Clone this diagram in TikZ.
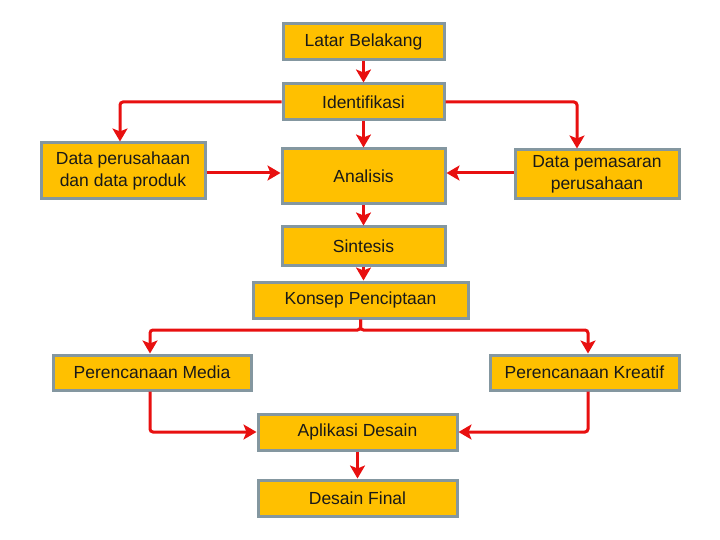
\documentclass[tikz,border=0pt]{standalone}
\usepackage{fontspec}
\setmainfont{Liberation Sans}
\usetikzlibrary{arrows.meta,calc}
\definecolor{boxfill}{RGB}{255,192,0}
\definecolor{boxline}{RGB}{132,151,160}
\definecolor{arrred}{RGB}{232,16,16}
\begin{document}
\begin{tikzpicture}[x=1pt,y=-1pt,
  box/.style={draw=boxline,line width=3pt,fill=boxfill,inner sep=0pt,align=center,
    text=black!90,font=\fontsize{17.5}{22.5}\selectfont},
  arr/.style={draw=arrred,line width=3pt,rounded corners=3pt,
    -{Stealth[width=15pt,length=13pt,inset=3pt]}}]
\useasboundingbox (0,0) rectangle (720,540);
\node[box,minimum width=161,minimum height=36] (latar) at (363.5,42) {Latar Belakang};
\node[box,minimum width=161,minimum height=36] (ident) at (363.5,102) {Identifikasi};
\node[box,minimum width=164,minimum height=56] (dper) at (123,171) {Data perusahaan\\dan data produk};
\node[box,minimum width=163,minimum height=55] (anal) at (363.5,176.5) {Analisis};
\node[box,minimum width=164,minimum height=49] (dpem) at (597,174.5) {Data pemasaran\\perusahaan};
\node[box,minimum width=163,minimum height=38] (sint) at (363.5,246) {Sintesis};
\node[box,minimum width=215,minimum height=36] (kons) at (360.5,300) {Konsep Penciptaan};
\node[box,minimum width=198,minimum height=35] (pmed) at (152,372.5) {Perencanaan Media};
\node[box,minimum width=189,minimum height=35] (pkre) at (584.5,372.5) {Perencanaan Kreatif};
\node[box,minimum width=199,minimum height=36] (apli) at (357.5,432) {Aplikasi Desain};
\node[box,minimum width=199,minimum height=36] (fin) at (357.5,498) {Desain Final};

\draw[arr] (latar.south) -- (ident.north);
\draw[arr] (ident.west) -| ([xshift=-3]dper.north);
\draw[arr] (ident.east) -| ([xshift=-20]dpem.north);
\draw[arr] (ident.south) -- (anal.north);
\draw[arr] (dper.east |- 0,173) -- (anal.west |- 0,173);
\draw[arr] (dpem.west |- 0,173) -- (anal.east |- 0,173);
\draw[arr] (anal.south) -- (sint.north);
\draw[arr] (sint.south) -- (sint.south |- kons.north);
\draw[arr] (kons.south) -- (kons.south |- 0,330) -| ([xshift=-2]pmed.north);
\draw[arr] (kons.south) -- (kons.south |- 0,330) -| ([xshift=3.5]pkre.north);
\draw[arr] ([xshift=-2]pmed.south) |- (apli.west);
\draw[arr] ([xshift=3.5]pkre.south) |- (apli.east);
\draw[arr] (apli.south) -- (fin.north);
\end{tikzpicture}
\end{document}
